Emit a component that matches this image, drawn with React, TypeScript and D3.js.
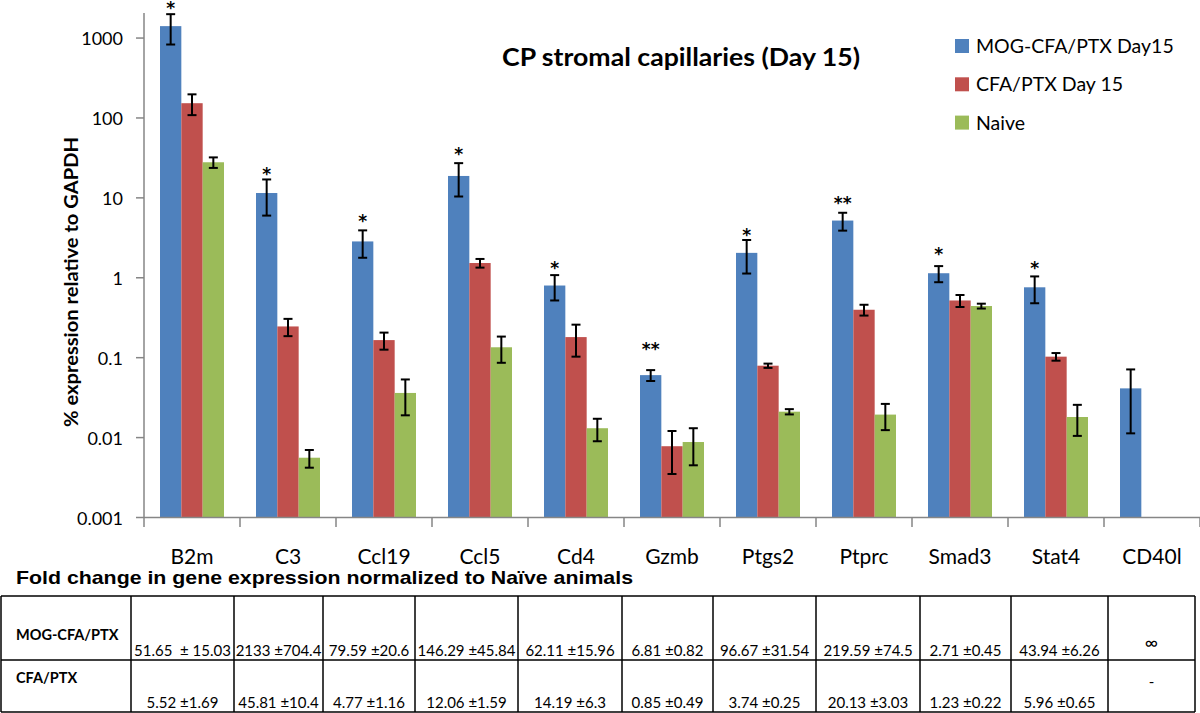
import React from "react";
import * as d3 from "d3";

// ---------- data ----------
const categories = ["B2m", "C3", "Ccl19", "Ccl5", "Cd4", "Gzmb", "Ptgs2", "Ptprc", "Smad3", "Stat4", "CD40l"];
const seriesNames = ["MOG-CFA/PTX Day15", "CFA/PTX Day 15", "Naive"];
const mogValues = [1410, 11.5, 2.85, 18.8, 0.8, 0.0605, 2.05, 5.2, 1.14, 0.76, 0.0413];
const mogErrors = [580, 5.5, 1.07, 8.4, 0.28, 0.0094, 0.92, 1.31, 0.26, 0.28, 0.03];
const cfaValues = [153, 0.246, 0.166, 1.53, 0.181, 0.0078, 0.0794, 0.398, 0.52, 0.103, null];
const cfaErrors = [44.5, 0.06, 0.04, 0.19, 0.078, 0.0043, 0.0049, 0.0615, 0.089, 0.0113, null];
const naiveValues = [27.9, 0.0056, 0.0362, 0.135, 0.0131, 0.0088, 0.0211, 0.0194, 0.443, 0.0181, null];
const naiveErrors = [4.2, 0.0014, 0.0172, 0.0487, 0.0041, 0.0043, 0.0016, 0.007, 0.031, 0.0076, null];
const sigMarks = ["*", "*", "*", "*", "*", "**", "*", "**", "*", "*", ""];
const sigLevels = [2590, 21.8, 5.53, 38.5, 1.44, 0.14, 3.7, 9.4, 2.16, 1.44, null];
const yTickValues = [0.001, 0.01, 0.1, 1, 10, 100, 1000];
const yTickLabels = ["0.001", "0.01", "0.1", "1", "10", "100", "1000"];
const chartTitle = "CP stromal capillaries (Day 15)";
const yAxisTitle = "% expression relative to GAPDH";
const tableTitle = "Fold change in gene expression normalized to Naïve animals";
const tableRowLabels = ["MOG-CFA/PTX", "CFA/PTX"];
const mogFold = ["51.65  ± 15.03", "2133 ±704.4", "79.59 ±20.6", "146.29 ±45.84", "62.11 ±15.96", "6.81 ±0.82", "96.67 ±31.54", "219.59 ±74.5", "2.71 ±0.45", "43.94 ±6.26", "∞"];
const cfaFold = ["5.52 ±1.69", "45.81 ±10.4", "4.77 ±1.16", "12.06 ±1.59", "14.19 ±6.3", "0.85 ±0.49", "3.74 ±0.25", "20.13 ±3.03", "1.23 ±0.22", "5.96 ±0.65", "-"];

// ---------- layout ----------
const W = 1200;
const H = 713;
const colors = ["#4F81BD", "#C0504D", "#9BBB59"];
const FONT = "Lato, 'Open Sans', sans-serif";
const tableEdges = [1, 131, 234, 323, 415, 518, 622, 713, 816, 920, 1011, 1108, 1195];

export default function App() {
  const x = d3.scaleBand<string>().domain(categories).range([144, 1200]).paddingInner(0).paddingOuter(0);
  const bw = x.bandwidth();
  const inner = d3.scaleBand<string>().domain(seriesNames).range([bw / 6, bw - bw / 6]).padding(0);
  const y = d3.scaleLog().domain([0.001, 2000]).range([517.5, 14]);

  const seriesVals = [mogValues, cfaValues, naiveValues];
  const seriesErr = [mogErrors, cfaErrors, naiveErrors];

  const bars: any[] = [];
  seriesNames.forEach((s, si) => {
    categories.forEach((c, ci) => {
      const v = seriesVals[si][ci];
      if (v == null) return;
      bars.push({ s, si, c, v, e: seriesErr[si][ci] });
    });
  });

  const rowTop = 596;
  const rowMid = 660;
  const rowBot = 712;

  return (
    <svg width={W} height={H} style={{ position: "absolute", left: 0, top: 0, background: "#fff" }} fontFamily={FONT}>
      <rect x={0} y={0} width={W} height={H} fill="#fff" />
      {/* bars */}
      {bars.map((b, i) => {
        const bx = (x(b.c) as number) + (inner(b.s) as number);
        return (
          <rect key={"b" + i} x={bx} y={y(b.v)} width={inner.bandwidth()} height={y(0.001) - y(b.v)} fill={colors[b.si]} />
        );
      })}
      {/* error bars */}
      {bars.map((b, i) => {
        const cx = (x(b.c) as number) + (inner(b.s) as number) + inner.bandwidth() / 2;
        const top = y(b.v + b.e);
        const bot = y(Math.max(b.v - b.e, 0.0011));
        return (
          <g key={"e" + i} stroke="#000" strokeWidth={2}>
            <line x1={cx} x2={cx} y1={top} y2={bot} />
            <line x1={cx - 4.5} x2={cx + 4.5} y1={top} y2={top} />
            <line x1={cx - 4.5} x2={cx + 4.5} y1={bot} y2={bot} />
          </g>
        );
      })}
      {/* significance marks */}
      {categories.map((c, ci) =>
        sigLevels[ci] == null ? null : (
          <text
            key={"s" + ci}
            x={(x(c) as number) + (inner(seriesNames[0]) as number) + inner.bandwidth() / 2}
            y={y(sigLevels[ci] as number) + 9}
            textAnchor="middle"
            fontSize={17}
            fontWeight="bold"
            fontFamily="'DejaVu Sans', sans-serif"
          >
            {sigMarks[ci]}
          </text>
        )
      )}
      {/* y axis */}
      <line x1={144} x2={144} y1={13} y2={517.5} stroke="#868686" strokeWidth={1.5} />
      {yTickValues.map((t, i) => (
        <g key={"yt" + i}>
          <line x1={136} x2={144} y1={y(t)} y2={y(t)} stroke="#868686" strokeWidth={1.5} />
          <text x={123} y={y(t) + 1} dy="0.35em" textAnchor="end" fontSize={18} fill="#000">
            {yTickLabels[i]}
          </text>
        </g>
      ))}
      <text
        transform={`translate(78,282) rotate(-90)`}
        textAnchor="middle"
        fontSize={18}
        fontWeight="bold"
        textLength={290}
        lengthAdjust="spacingAndGlyphs"
      >
        {yAxisTitle}
      </text>
      {/* x axis */}
      <line x1={144} x2={1200} y1={517.5} y2={517.5} stroke="#868686" strokeWidth={1.5} />
      {categories.map((c, i) => (
        <line key={"xt" + i} x1={(x(c) as number) + bw} x2={(x(c) as number) + bw} y1={517.5} y2={527} stroke="#868686" strokeWidth={1.5} />
      ))}
      <line x1={144} x2={144} y1={517.5} y2={527} stroke="#868686" strokeWidth={1.5} />
      {categories.map((c, i) => (
        <text key={"xl" + i} x={(x(c) as number) + bw / 2} y={564} textAnchor="middle" fontSize={21}>
          {c}
        </text>
      ))}
      {/* title */}
      <text x={681} y={66} textAnchor="middle" fontSize={25} fontWeight="bold" textLength={358} lengthAdjust="spacingAndGlyphs">
        {chartTitle}
      </text>
      {/* legend */}
      {seriesNames.map((s, i) => (
        <g key={"lg" + i} transform={`translate(955, ${39 + i * 38.3})`}>
          <rect x={0} y={0} width={14} height={14} fill={colors[i]} />
          <text x={21} y={14} fontSize={19.5}>
            {s}
          </text>
        </g>
      ))}
      {/* table */}
      <text x={16} y={584} fontFamily="'Liberation Sans', Arial, sans-serif" fontWeight="bold" fontSize={18.5} textLength={617} lengthAdjust="spacingAndGlyphs">
        {tableTitle}
      </text>
      <g stroke="#000" strokeWidth={1.5}>
        <line x1={tableEdges[0]} x2={tableEdges[tableEdges.length - 1]} y1={rowTop} y2={rowTop} />
        <line x1={tableEdges[0]} x2={tableEdges[tableEdges.length - 1]} y1={rowMid} y2={rowMid} />
        <line x1={tableEdges[0]} x2={tableEdges[tableEdges.length - 1]} y1={rowBot} y2={rowBot} />
        {tableEdges.map((e, i) => (
          <line key={"te" + i} x1={e} x2={e} y1={rowTop} y2={rowBot} />
        ))}
      </g>
      {tableRowLabels.map((l, i) => (
        <text key={"rl" + i} x={16} y={i === 0 ? 640 : 683} fontSize={14.5} fontWeight="bold">
          {l}
        </text>
      ))}
      {mogFold.map((v, i) => (
        <text
          key={"m" + i}
          x={(tableEdges[i + 1] + tableEdges[i + 2]) / 2}
          y={v === "∞" ? 649 : 656}
          textAnchor="middle"
          fontSize={v === "∞" ? 18 : 15}
          style={{ whiteSpace: "pre" }}
        >
          {v}
        </text>
      ))}
      {cfaFold.map((v, i) => (
        <text
          key={"c" + i}
          x={(tableEdges[i + 1] + tableEdges[i + 2]) / 2}
          y={v === "-" ? 687 : 708}
          textAnchor="middle"
          fontSize={15}
        >
          {v}
        </text>
      ))}
    </svg>
  );
}
